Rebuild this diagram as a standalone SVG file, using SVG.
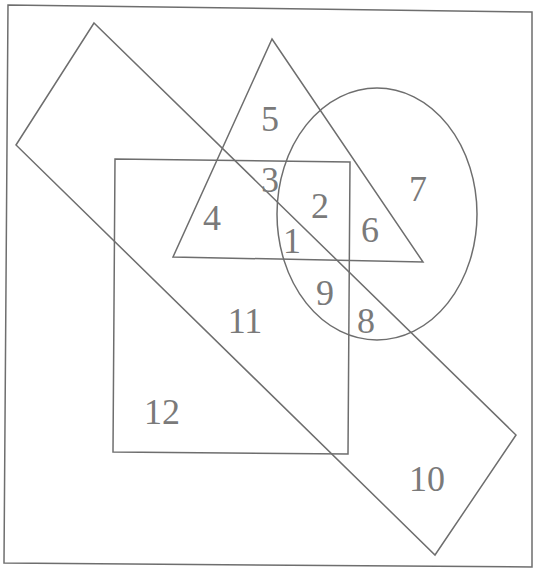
<svg xmlns="http://www.w3.org/2000/svg" width="534" height="569" viewBox="0 0 534 569">
  <style>
    .sh { fill: none; stroke: #6e6e6e; stroke-width: 1.5; stroke-linejoin: miter; }
    .lb { font-family: "Liberation Serif", "Times New Roman", serif; font-size: 36px; fill: #7a7a7a; text-anchor: middle; }
  </style>
  <rect x="0" y="0" width="534" height="569" fill="#ffffff"/>
  <g id="border">
    <polygon class="sh" points="8,5 532,12 532,567 4,563"/>
  </g>
  <g id="rotated-rectangle">
    <polygon class="sh" points="94,23 516,435 435,555 16,145"/>
  </g>
  <g id="square">
    <polygon class="sh" points="115,159 350,162 348,454 113,452"/>
  </g>
  <g id="triangle">
    <polygon class="sh" points="272,39 423,262 173,257"/>
  </g>
  <g id="circle">
    <ellipse class="sh" cx="377" cy="214" rx="100" ry="126"/>
  </g>
  <g id="labels">
    <text class="lb" x="270" y="131">5</text>
    <text class="lb" x="270" y="192">3</text>
    <text class="lb" x="320" y="218">2</text>
    <text class="lb" x="212" y="230">4</text>
    <text class="lb" x="292" y="253">1</text>
    <text class="lb" x="370" y="242">6</text>
    <text class="lb" x="418" y="201">7</text>
    <text class="lb" x="325" y="305">9</text>
    <text class="lb" x="366" y="333">8</text>
    <text class="lb" x="245" y="333">11</text>
    <text class="lb" x="162" y="424">12</text>
    <text class="lb" x="427" y="491">10</text>
  </g>
</svg>
